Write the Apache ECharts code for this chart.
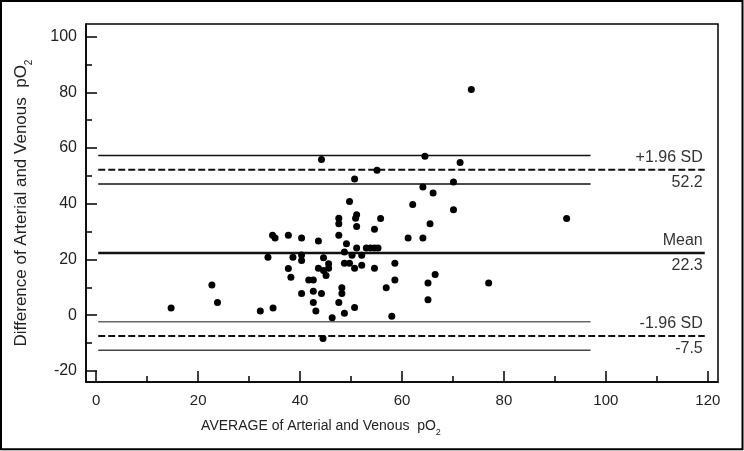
<!DOCTYPE html>
<html><head><meta charset="utf-8">
<script src="https://cdn.jsdelivr.net/npm/echarts@6/dist/echarts.min.js"></script>
<style>html,body{margin:0;padding:0;background:#fff}#c{width:744px;height:451px}</style>
</head><body><div id="c"></div>
<script>
// Bland-Altman data: x = average, y = difference
const avgValues = [14.7,22.7,23.8,32.2,33.7,34.6,35.1,34.7,37.7,37.7,38.2,38.6,40.3,40.3,40.3,40.3,41.7,42.6,42.6,42.6,43.1,43.6,44.2,44.2,44.6,43.6,44.6,45.6,45.6,45.1,44.5,46.3,47.6,47.6,47.6,47.6,48.2,48.2,48.7,48.7,48.7,49.1,49.7,49.7,50.2,50.7,50.7,50.7,51.1,50.9,51.1,51.1,52.1,52.1,53.0,53.8,54.6,55.3,54.6,54.6,55.1,55.8,56.9,58.0,58.6,58.6,61.2,62.1,64.1,64.1,64.5,65.5,65.1,65.1,66.1,66.5,70.1,70.1,71.4,73.6,77.0,92.3];
const diffValues = [2.6,10.8,4.5,1.5,20.8,28.7,27.7,2.6,28.7,16.7,13.6,20.8,27.7,21.6,19.6,7.8,12.6,12.6,8.6,4.5,1.5,26.6,55.9,7.8,20.6,16.8,16.0,18.4,16.8,14.2,-8.4,-0.9,34.8,32.8,28.7,4.5,9.8,7.8,22.7,18.6,0.7,25.6,18.6,40.8,21.5,48.9,16.8,2.7,36.0,34.8,31.8,24.1,21.5,17.9,24.1,24.1,24.1,24.1,30.8,16.8,52.0,34.7,9.8,-0.4,18.6,12.6,27.7,39.7,27.7,46.0,57.0,32.8,11.5,5.5,43.8,14.6,47.8,37.8,54.8,81.0,11.5,34.7];

const meanDiff = 22.3;
const upperLoA = 52.2;
const lowerLoA = -7.5;
const loaCIHalf = 5.1;
const lineStartX = 0.4;
const ciEndX = 97;
const loaEndX = 119.4;

const xMajorTicks = [0,20,40,60,80,100,120];
const xMinorTicks = [10,30,50,70,90,110];
const yMajorTicks = [-20,0,20,40,60,80,100];
const yMinorTicks = [-10,10,30,50,70,90];

const rightLabels = [
  {value: upperLoA, top: '+1.96 SD', bottom: upperLoA.toFixed(1)},
  {value: meanDiff, top: 'Mean', bottom: meanDiff.toFixed(1)},
  {value: lowerLoA, top: '-1.96 SD', bottom: lowerLoA.toFixed(1)}
];

const FONT = '"Liberation Sans", Arial, sans-serif';
const chart = echarts.init(document.getElementById('c'), null, {renderer: 'canvas'});

function hline(y, x0, x1, style) {
  return {type: 'line', data: [[x0, y], [x1, y]], symbol: 'none', silent: true,
    lineStyle: style, animation: false, z: 2};
}

const pts = avgValues.map((x, i) => [x, diffValues[i]]);

const axisCommon = {type: 'value', splitLine: {show: false}};

chart.setOption({
  animation: false,
  backgroundColor: '#fff',
  grid: {left: 84, right: 26, top: 24, bottom: 69, show: true, borderColor: '#000', borderWidth: 1.5},
  xAxis: [
    Object.assign({}, axisCommon, {
      min: -2, max: 122, position: 'bottom',
      axisLine: {onZero: false, lineStyle: {color: '#000', width: 1.5}},
      axisTick: {inside: true, length: 11, customValues: xMajorTicks, lineStyle: {color: '#000', width: 1.5}},
      axisLabel: {customValues: xMajorTicks, color: '#222', fontSize: 15, fontFamily: FONT, margin: 11},
      name: 'AVERAGE of Arterial and Venous  pO{sub|2}',
      nameLocation: 'middle', nameGap: 33,
      nameTextStyle: {color: '#222', fontSize: 14, fontFamily: FONT, padding: [0, 162, 0, 0], lineHeight: 22,
        rich: {sub: {fontSize: 9, fontFamily: FONT, color: '#222', verticalAlign: 'bottom', lineHeight: 10}}}
    }),
    Object.assign({}, axisCommon, {
      min: -2, max: 122, position: 'bottom',
      axisLine: {show: false, onZero: false},
      axisTick: {inside: true, length: 6, customValues: xMinorTicks, lineStyle: {color: '#000', width: 1.5}},
      axisLabel: {show: false}
    })
  ],
  yAxis: [
    Object.assign({}, axisCommon, {
      min: -24, max: 104.5, position: 'left',
      axisLine: {show: true, onZero: false, lineStyle: {color: '#000', width: 1.5}},
      axisTick: {show: true, inside: true, length: 11, customValues: yMajorTicks, lineStyle: {color: '#000', width: 1.5}},
      axisLabel: {customValues: yMajorTicks, color: '#222', fontSize: 16, fontFamily: FONT, margin: 9},
      name: 'Difference of Arterial and Venous  pO{sub|2}',
      nameLocation: 'middle', nameRotate: 90, nameGap: 52,
      nameTextStyle: {color: '#222', fontSize: 17, fontFamily: FONT, lineHeight: 26,
        rich: {sub: {fontSize: 10, fontFamily: FONT, color: '#222', verticalAlign: 'bottom', lineHeight: 10}}}
    }),
    Object.assign({}, axisCommon, {
      min: -24, max: 104.5, position: 'left',
      axisLine: {show: false, onZero: false},
      axisTick: {show: true, inside: true, length: 6, customValues: yMinorTicks, lineStyle: {color: '#000', width: 1.5}},
      axisLabel: {show: false}
    })
  ],
  series: [
    hline(upperLoA + loaCIHalf, lineStartX, ciEndX, {color: '#111', width: 1.5}),
    hline(upperLoA - loaCIHalf, lineStartX, ciEndX, {color: '#111', width: 1.5}),
    hline(upperLoA, lineStartX, loaEndX, {color: '#111', width: 2, type: [7, 3]}),
    hline(meanDiff, lineStartX, loaEndX, {color: '#111', width: 2.5}),
    hline(lowerLoA + loaCIHalf, lineStartX, ciEndX, {color: '#666', width: 1.5}),
    hline(lowerLoA - loaCIHalf, lineStartX, ciEndX, {color: '#444', width: 1.5}),
    hline(lowerLoA, lineStartX, loaEndX, {color: '#111', width: 2, type: [7, 3]}),
    {type: 'scatter', data: pts, symbol: 'circle', symbolSize: 7,
      itemStyle: {color: '#000', opacity: 1}, z: 5, silent: true}
  ]
});

const g = [{type: 'rect', shape: {x: 1, y: 1, width: 741.5, height: 448.3},
  style: {fill: 'none', stroke: '#000', lineWidth: 2}, silent: true}];
rightLabels.forEach(l => {
  const p = chart.convertToPixel({xAxisIndex: 0, yAxisIndex: 0}, [loaEndX, l.value]);
  g.push({type: 'text', x: p[0] - 2, y: p[1] - 12.5,
    style: {text: l.top, align: 'right', verticalAlign: 'middle', fill: '#333', font: '16px ' + FONT}});
  g.push({type: 'text', x: p[0] - 2, y: p[1] + 12.5,
    style: {text: l.bottom, align: 'right', verticalAlign: 'middle', fill: '#333', font: '16px ' + FONT}});
});
chart.setOption({graphic: g});
</script>
</body></html>
